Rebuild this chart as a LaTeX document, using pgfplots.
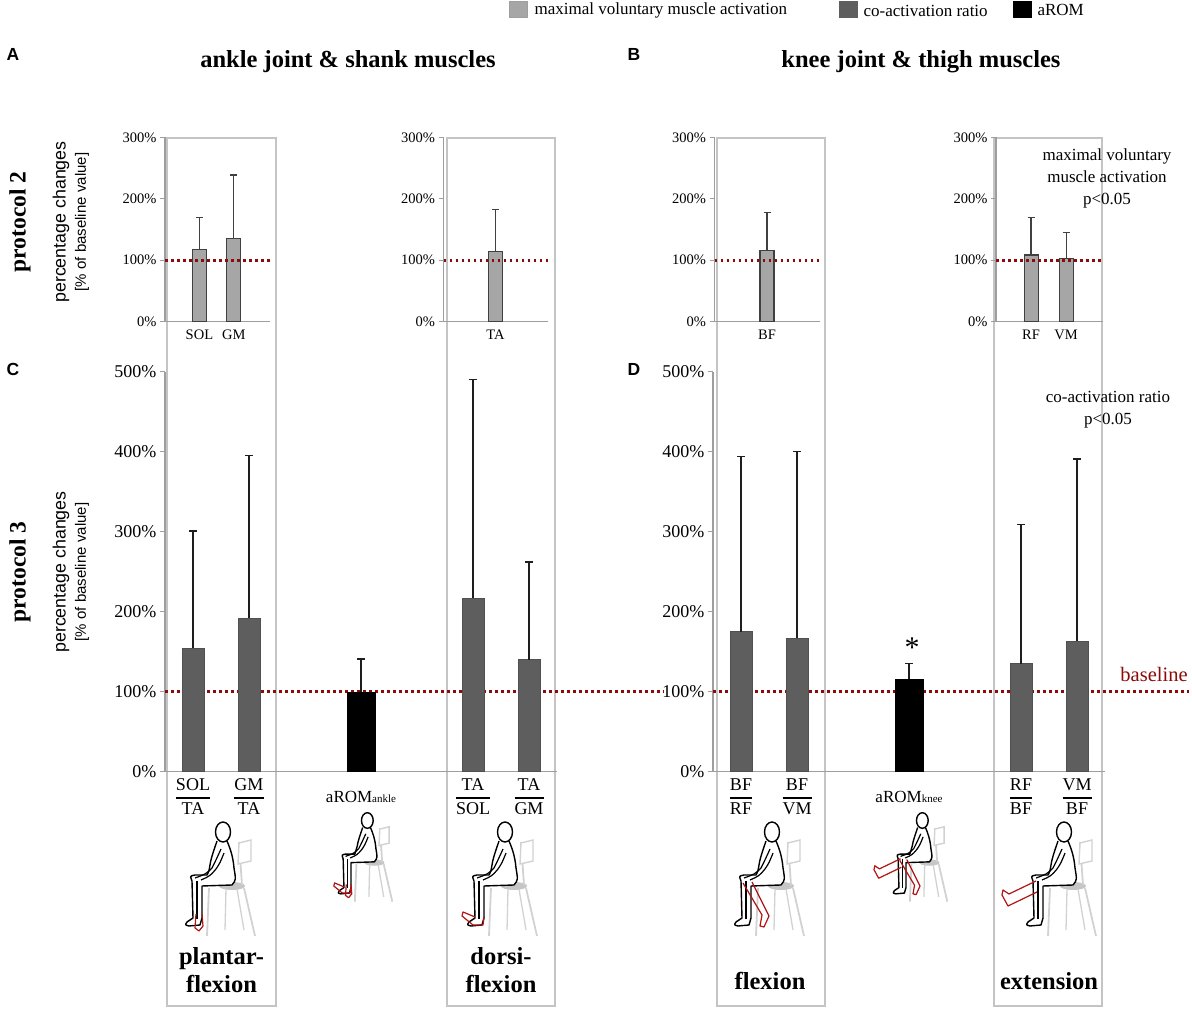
\documentclass[border=0pt]{standalone}
\usepackage{amsmath}
\usepackage{pgfplots}
\pgfplotsset{compat=1.18}
\usepackage{fontspec}
\setmainfont{Liberation Serif}
\newfontfamily\arial{Liberation Sans}
\definecolor{axgray}{HTML}{9E9E9E}
\definecolor{boxgray}{HTML}{C4C4C4}
\definecolor{lightbar}{HTML}{A6A6A6}
\definecolor{lightedge}{HTML}{404040}
\definecolor{darkbar}{HTML}{5E5E5E}
\definecolor{errc}{HTML}{1E1E1E}
\definecolor{basered}{HTML}{8B0A0A}
\definecolor{chairgray}{HTML}{D2D2D2}
\definecolor{chairfill}{HTML}{C6C6C6}
\definecolor{footred}{HTML}{B01414}
\newcommand{\fs}[1]{\fontsize{#1}{#1}\selectfont}
\newcommand{\fr}[2]{\genfrac{}{}{1.3pt}{0}{\mbox{#1}}{\mbox{#2}}}
\tikzset{fr/.style={draw=footred, line width=1.2pt, line join=round}}
\pgfplotsset{
 errsT/.style={error bars/.cd, y dir=plus, y explicit,
   error bar style={draw=lightedge, line width=1.2pt},
   error mark options={draw=lightedge, line width=1.2pt, mark size=3.5pt, rotate=90}},
 errsB/.style={error bars/.cd, y dir=plus, y explicit,
   error bar style={draw=errc, line width=1.5pt},
   error mark options={draw=errc, line width=1.5pt, mark size=4pt, rotate=90}},
 panel/.style={
  scale only axis, anchor=south west, clip=false,
  axis lines=left, axis line style={-, draw=axgray, line width=1.4pt},
  ymin=0, tick align=outside, major tick length=5pt,
  ytick style={draw=axgray, line width=1.3pt},
  xtick style={draw=none},
  /pgf/number format/assume math mode=true,
  yticklabel={\pgfmathprintnumber{\tick}\%},
 },
 toppanel/.style={panel, height=184.4pt, ymax=300, ytick={0,100,200,300},
  yticklabel style={font=\fs{14.5}}, xticklabel style={font=\fs{14.5}}},
 botpanel/.style={panel, width=392pt, height=400pt, ymax=500, ytick={0,100,...,500},
  xmin=0.5, xmax=7.5, yticklabel style={font=\fs{18}}, xtick={1,2,4,6,7},
  xticklabel style={anchor=center, yshift=-20pt, font=\fs{18}}},
 lbar/.style={ybar, bar width=14pt, fill=lightbar, draw=lightedge, line width=1.1pt, errsT},
 dbar/.style={ybar, bar width=22pt, fill=darkbar, draw=darkbar!85!black, line width=0.6pt, errsB},
 kbar/.style={ybar, bar width=28pt, fill=black, draw=black, line width=0.6pt, errsB},
 basedot/.style={draw=basered, line width=2.8pt, dash pattern=on 2.8pt off 3.2pt, mark=none, forget plot},
}
% seated person: x y scale overlay
\newcommand{\seated}[4]{%
\begin{scope}[shift={(#1,#2)}, scale=#3]
 \fill[chairfill] (12,12) ellipse (13 and 4);
 \draw[chairgray, line width=1.8pt] (-11,10) -- (-13,-38);
 \draw[chairgray, line width=1.8pt] (24,10) -- (35,-38);
 \draw[chairgray, line width=1.3pt] (6,9) -- (5,-32);
 \draw[chairgray, line width=1.3pt] (17,9) -- (24,-32);
 \draw[chairgray, line width=1.8pt] (22,13) -- (19,56);
 \draw[chairgray, line width=1.4pt, fill=white] (18,34) -- (31,37) -- (31,58) -- (19,55) -- cycle;
 \draw[black, line width=1.4pt, line join=round, fill=white] (-3,57) .. controls (-6,48) and (-9,40) .. (-10,33) .. controls (-11,27) .. (-13,23) -- (-25,23) .. controls (-30,22) .. (-28,17) -- (-27,-20) -- (-33,-24) .. controls (-35,-27) .. (-31,-28) -- (-20,-27) -- (-18,-20) -- (-18,12) -- (12,13) .. controls (16,18) .. (14,30) .. controls (13,42) and (10,50) .. (7,57);
 \draw[black, line width=1.4pt] (3,66) ellipse (7.5 and 10);
 \draw[black, line width=1.2pt] (1,49) .. controls (-4,38) .. (-8,30) .. controls (-14,24) .. (-25,20);
 \draw[black, line width=1.2pt] (4,45) .. controls (0,35) .. (-4,29) .. controls (-10,22) .. (-19,18);
 \draw[black, line width=1.1pt] (-23,17) -- (-23,-21);
 #4
\end{scope}}
\newcommand{\redplantar}{\draw[fr] (-24,-16) -- (-25,-30) -- (-21,-33) -- (-17,-28) -- (-18,-16);}
\newcommand{\reddorsi}{\draw[fr] (-27,-19) -- (-39,-14) -- (-40,-18) -- (-29,-27) -- (-19,-27) -- (-18,-19);}
\newcommand{\redflex}{\draw[fr] (-26,15) -- (-7,-17) -- (-9,-28) -- (-5,-29) -- (0,-18) -- (-17,16);}
\newcommand{\redext}{\draw[fr] (-25,17) -- (-52,4) -- (-58,8) -- (-59,3) -- (-53,-8) -- (-24,6);}
\begin{document}
\begin{tikzpicture}[x=1pt,y=1pt]
\path[use as bounding box] (0,0) rectangle (1192,1010);
% boxes
\foreach \a/\b in {167/276, 447/555, 717/825, 994/1102}
  \draw[boxgray, line width=1.2pt] (\a,4) rectangle (\b,872);
% legend
\filldraw[fill=lightbar, draw=axgray, line width=1pt] (509,992) rectangle (527,1008);
\node[anchor=west, font=\fs{17}] at (531,1000) {maximal voluntary muscle activation};
\filldraw[fill=darkbar, draw=darkbar, line width=1pt] (839,992) rectangle (857,1008);
\node[anchor=west, font=\fs{17}] at (860,999) {co-activation ratio};
\filldraw[fill=black, draw=black, line width=1pt] (1013,992) rectangle (1031,1008);
\node[anchor=west, font=\fs{17}] at (1034,1000) {aROM};
% titles and letters
\node[font=\fs{24.5}\bfseries] at (348,948) {ankle joint \& shank muscles};
\node[font=\fs{24.5}\bfseries] at (921,948) {knee joint \& thigh muscles};
\node[font=\arial\fs{17.5}\bfseries] at (13,956) {A};
\node[font=\arial\fs{17.5}\bfseries] at (634,956) {B};
\node[font=\arial\fs{17.5}\bfseries] at (13,641) {C};
\node[font=\arial\fs{17.5}\bfseries] at (634,641) {D};
% left labels
\node[rotate=90, font=\fs{23.5}\bfseries] at (20,788) {protocol 2};
\node[rotate=90, font=\arial\fs{17.8}] at (61,788) {percentage changes};
\node[rotate=90, font=\arial\fs{15}] at (82,788) {[\% of baseline value]};
\node[rotate=90, font=\fs{23.5}\bfseries] at (20,438) {protocol 3};
\node[rotate=90, font=\arial\fs{17.8}] at (61,438) {percentage changes};
\node[rotate=90, font=\arial\fs{15}] at (82,438) {[\% of baseline value]};
% top panels
\begin{axis}[toppanel, at={(165pt,688.3pt)}, width=105pt, xmin=0, xmax=3.05, xtick={1,2}, xticklabels={SOL,GM}]
\addplot[lbar] coordinates {(1,118) +- (0,52) (2,136) +- (0,102.5)};
\addplot[basedot] coordinates {(0,100) (3.05,100)};
\end{axis}
\begin{axis}[toppanel, at={(443.5pt,688.3pt)}, width=104pt, xmin=0, xmax=2, xtick={1}, xticklabels={TA}]
\addplot[lbar] coordinates {(1,114) +- (0,69)};
\addplot[basedot] coordinates {(0,100) (2,100)};
\end{axis}
\begin{axis}[toppanel, at={(714.5pt,688.3pt)}, width=105pt, xmin=0, xmax=2, xtick={1}, xticklabels={BF}]
\addplot[lbar] coordinates {(1,115.5) +- (0,61.5)};
\addplot[basedot] coordinates {(0,100) (2,100)};
\end{axis}
\begin{axis}[toppanel, at={(996pt,688.3pt)}, width=107pt, xmin=0, xmax=3.05, xtick={1,2}, xticklabels={RF,VM}]
\addplot[lbar] coordinates {(1,108.5) +- (0,61.5) (2,103) +- (0,42.5)};
\addplot[basedot] coordinates {(0,100) (3.05,100)};
\end{axis}
% bottom panels
\begin{axis}[botpanel, at={(165pt,238.3pt)},
  xticklabels={$\fr{SOL}{TA}$, $\fr{GM}{TA}$, {\fs{17}aROM}{\fs{11}ankle}, $\fr{TA}{SOL}$, $\fr{TA}{GM}$}]
\addplot[basedot] coordinates {(0.5,100) (9.4,100)};
\addplot[dbar] coordinates {(1,154) +- (0,147) (2,192) +- (0,203) (6,217) +- (0,273) (7,140) +- (0,122)};
\addplot[kbar] coordinates {(4,99) +- (0,42)};
\end{axis}
\begin{axis}[botpanel, at={(713pt,238.3pt)},
  xticklabels={$\fr{BF}{RF}$, $\fr{BF}{VM}$, {\fs{17}aROM}{\fs{11}knee}, $\fr{RF}{BF}$, $\fr{VM}{BF}$}]
\addplot[basedot] coordinates {(0.5,100) (9.0,100)};
\addplot[dbar] coordinates {(1,175) +- (0,219) (2,167) +- (0,233) (6,135) +- (0,174) (7,163) +- (0,228)};
\addplot[kbar] coordinates {(4,115.5) +- (0,20)};
\end{axis}
% annotations
\node[font=\fontsize{17}{22}\selectfont, align=center] at (1107,832) {maximal voluntary\\muscle activation\\p<0.05};
\node[font=\fontsize{17}{22}\selectfont, align=center] at (1108,600) {co-activation ratio\\p<0.05};
\node[font=\fs{30}] at (912,362) {*};
\node[font=\fs{20.5}, text=basered] at (1154,336) {baseline};
% figures
\seated{220}{112}{1}{\redplantar}
\seated{502}{112}{1}{\reddorsi}
\seated{769}{112}{1}{\redflex}
\seated{1061}{112}{1}{\redext}
\seated{365}{138}{0.78}{\redplantar\reddorsi}
\seated{920}{138}{0.78}{\redext\redflex}
% bottom labels
\node[font=\fontsize{24.5}{27.5}\selectfont\bfseries, align=center] at (221.5,40) {plantar-\\flexion};
\node[font=\fontsize{24.5}{27.5}\selectfont\bfseries, align=center] at (501,40) {dorsi-\\flexion};
\node[font=\fs{24.5}\bfseries] at (770,29) {flexion};
\node[font=\fs{24.5}\bfseries] at (1049,29) {extension};
\end{tikzpicture}
\end{document}
